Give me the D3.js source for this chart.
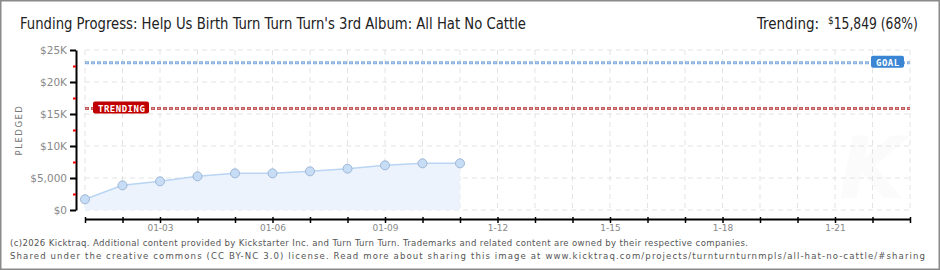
<!DOCTYPE html>
<html>
<head>
<meta charset="utf-8">
<script src="https://cdn.jsdelivr.net/npm/d3@7"></script>
<style>
  body { margin: 0; background: #fff; }
  svg { display: block; }
</style>
</head>
<body>
<svg id="chart" width="940" height="270"></svg>
<script>
// data
const days = [1, 2, 3, 4, 5, 6, 7, 8, 9, 10, 11];
const pledged = [1670, 3850, 4480, 5260, 5730, 5730, 6040, 6460, 6980, 7290, 7290];
const tickDays = d3.range(1, 24);
const labelDays = [3, 6, 9, 12, 15, 18, 21];
const labelText = ['01-03', '01-06', '01-09', '1-12', '1-15', '1-18', '1-21'];
const yTicks = [0, 5000, 10000, 15000, 20000, 25000];
const yTickText = ['$0', '$5,000', '$10K', '$15K', '$20K', '$25K'];
const goal = 23000;
const trending = 15849;

const svg = d3.select('#chart');
const width = +svg.attr('width');
const height = +svg.attr('height');

const x = d3.scaleLinear().domain([1, 23]).range([85, 910]);
const y = d3.scaleLinear().domain([0, 25000]).range([210, 50]);

// frame
svg.append('rect')
    .attr('x', 0.5).attr('y', 0.5)
    .attr('width', width - 1).attr('height', height - 1)
    .attr('fill', '#fff')
    .attr('stroke', '#8a8a8a')
    .attr('stroke-width', 2);

// watermark
svg.append('text')
    .attr('x', 872).attr('y', 198)
    .attr('text-anchor', 'middle')
    .style('font-family', 'DejaVu Sans')
    .style('font-size', '86px')
    .style('font-style', 'italic')
    .style('font-weight', 'bold')
    .attr('fill', '#fbfbfb')
    .text('K');

// title
const narrow = '"DejaVu Sans Condensed", "DejaVu Sans", sans-serif';
svg.append('text')
    .attr('x', 20).attr('y', 29)
    .attr('textLength', 506)
    .attr('lengthAdjust', 'spacingAndGlyphs')
    .style('font-family', narrow)
    .style('font-size', '15px')
    .attr('fill', '#222')
    .text("Funding Progress: Help Us Birth Turn Turn Turn's 3rd Album: All Hat No Cattle");

const trendText = svg.append('text')
    .attr('x', 757).attr('y', 29)
    .style('font-family', narrow)
    .style('font-size', '15px')
    .attr('fill', '#222');
trendText.append('tspan').text('Trending:  ');
trendText.append('tspan').attr('x', 828).attr('dy', -5).style('font-size', '10px').text('$');
trendText.append('tspan').attr('dy', 5)
    .attr('textLength', 84)
    .attr('lengthAdjust', 'spacingAndGlyphs')
    .text(d3.format(',')(trending) + ' (' + Math.floor(trending / goal * 100) + '%)');

// grid
const grid = svg.append('g').attr('stroke', '#e3e3e3').attr('stroke-dasharray', '5,4');
grid.selectAll('.v').data(tickDays).enter().append('line')
    .attr('x1', d => x(d)).attr('x2', d => x(d))
    .attr('y1', y(25000)).attr('y2', y(0));
grid.selectAll('.h').data(yTicks).enter().append('line')
    .attr('x1', x(1)).attr('x2', x(23))
    .attr('y1', d => y(d)).attr('y2', d => y(d));

// area + line + points
const area = d3.area()
    .x((d, i) => x(days[i]))
    .y0(y(0))
    .y1(d => y(d));
svg.append('path')
    .datum(pledged)
    .attr('d', area)
    .attr('fill', '#ecf3fc');

const line = d3.line()
    .x((d, i) => x(days[i]))
    .y(d => y(d));
svg.append('path')
    .datum(pledged)
    .attr('d', line)
    .attr('fill', 'none')
    .attr('stroke', '#b9d5f3')
    .attr('stroke-width', 1.5);

svg.selectAll('circle.pt')
    .data(pledged)
    .enter().append('circle')
    .attr('class', 'pt')
    .attr('cx', (d, i) => x(days[i]))
    .attr('cy', d => y(d))
    .attr('r', 4.5)
    .attr('fill', '#c7ddf6')
    .attr('stroke', '#9db6d6')
    .attr('stroke-width', 1);

// goal and trending lines
const refLine = (val, color, border) => {
  svg.append('line')
      .attr('x1', x(1)).attr('x2', x(23))
      .attr('y1', y(val)).attr('y2', y(val))
      .attr('stroke', border)
      .attr('stroke-width', 3)
      .attr('stroke-dasharray', '4,2');
  svg.append('line')
      .attr('x1', x(1) + 1).attr('x2', x(23))
      .attr('y1', y(val)).attr('y2', y(val))
      .attr('stroke', color)
      .attr('stroke-width', 1)
      .attr('stroke-dasharray', '2,4');
};
refLine(goal, '#b8d2f0', '#86aedd');
refLine(trending, '#e09a9a', '#c45b5b');

const badge = (val, bx, w, fill, txt) => {
  svg.append('rect')
      .attr('x', bx).attr('y', y(val) - 7)
      .attr('width', w).attr('height', 12)
      .attr('rx', 2)
      .attr('fill', fill);
  svg.append('text')
      .attr('x', bx + 5).attr('y', y(val) + 3)
      .style('font-family', '"DejaVu Sans Mono", monospace')
      .style('font-size', '9px')
      .style('font-weight', 'bold')
      .style('letter-spacing', '0.5px')
      .attr('fill', '#fff')
      .text(txt);
};
badge(goal, 871, 33, '#3a86d4', 'GOAL');
badge(trending, 93, 56, '#c00000', 'TRENDING');

// y axis
const yAxis = svg.append('g')
    .attr('transform', 'translate(76,0)')
    .call(d3.axisLeft(y).tickValues(yTicks).tickSize(6).tickSizeOuter(0).tickPadding(3)
      .tickFormat((d, i) => yTickText[i]));
yAxis.select('.domain').attr('stroke', '#000').attr('stroke-width', 2);
yAxis.selectAll('.tick line').attr('stroke', '#000').attr('stroke-width', 2);
yAxis.selectAll('text')
    .style('font-family', '"DejaVu Sans", sans-serif')
    .style('font-size', '10.5px')
    .attr('fill', '#888');

const yMinor = svg.append('g')
    .attr('transform', 'translate(76,0)')
    .call(d3.axisLeft(y).tickValues([2500, 7500, 12500, 17500, 22500]).tickSize(3).tickFormat(''));
yMinor.select('.domain').remove();
yMinor.selectAll('.tick line').attr('stroke', '#e00').attr('stroke-width', 2);

svg.append('text')
    .attr('transform', 'translate(22,130) rotate(-90)')
    .attr('text-anchor', 'middle')
    .style('font-family', '"DejaVu Sans", sans-serif')
    .style('font-size', '8.5px')
    .style('letter-spacing', '1.5px')
    .attr('fill', '#777')
    .text('PLEDGED');

// x axis
const xAxis = svg.append('g')
    .attr('transform', 'translate(0,219)')
    .call(d3.axisBottom(x).tickValues(tickDays).tickSize(4).tickSizeOuter(0).tickPadding(2)
      .tickFormat(d => {
        const k = labelDays.indexOf(d);
        return k >= 0 ? labelText[k] : '';
      }));
xAxis.select('.domain').attr('stroke', '#000').attr('stroke-width', 2);
xAxis.selectAll('.tick line').attr('y1', -2).attr('stroke', '#000').attr('stroke-width', 1.5);
xAxis.selectAll('text')
    .style('font-family', '"DejaVu Sans", sans-serif')
    .style('font-size', '9px')
    .attr('fill', '#888');

// footer
const foot = [
  '(c)2026 Kicktraq. Additional content provided by Kickstarter Inc. and Turn Turn Turn. Trademarks and related content are owned by their respective companies.',
  'Shared under the creative commons (CC BY-NC 3.0) license. Read more about sharing this image at www.kicktraq.com/projects/turnturnturnmpls/all-hat-no-cattle/#sharing'
];
const footLen = [738, 915];
svg.selectAll('text.foot')
    .data(foot)
    .enter().append('text')
    .attr('class', 'foot')
    .attr('x', 10)
    .attr('y', (d, i) => 246 + i * 13)
    .attr('textLength', (d, i) => footLen[i])
    .attr('lengthAdjust', 'spacing')
    .style('font-family', '"DejaVu Sans Condensed", "DejaVu Sans", sans-serif')
    .style('font-size', '9.5px')
    .attr('fill', '#555')
    .text(d => d);
</script>
</body>
</html>
